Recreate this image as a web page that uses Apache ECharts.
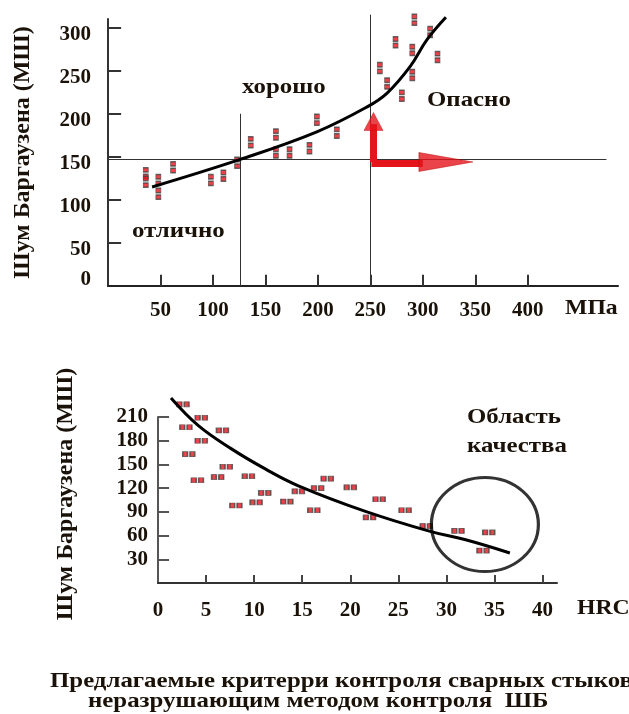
<!DOCTYPE html>
<html>
<head>
<meta charset="utf-8">
<script src="https://cdn.jsdelivr.net/npm/echarts@6/dist/echarts.min.js"></script>
<style>
  html, body { margin: 0; padding: 0; background: #fff; }
  #main { width: 629px; height: 714px; }
</style>
</head>
<body>
<div id="main"></div>
<script>
// верхний график: напряжение (МПа) -> шум Баргаузена
var topStress = [36, 36, 48, 48, 62, 98, 110, 123, 136, 160, 160, 173, 192, 199, 218, 259, 266, 274, 280, 290, 290, 292, 307, 314];
var topNoise = [131, 121, 123, 107, 138, 123, 128, 143, 167, 176, 155, 155, 160, 193, 178, 253, 235, 283, 221, 274, 245, 309, 295, 266];
var topFitX = [42, 126, 199, 247, 266, 288, 304, 322];
var topFitY = [115, 147, 179, 208, 224, 255, 286, 312];
var topXTicks = [50, 100, 150, 200, 250, 300, 350, 400];
var topYTicks = [50, 100, 150, 200, 250, 300];

// нижний график: твердость HRC -> шум Баргаузена
var hrc = [2.6, 4.5, 2.9, 6.7, 4.5, 3.2, 7.1, 4.1, 6.2, 9.4, 11.1, 8.1, 10.2, 13.4, 14.6, 17.6, 16.6, 16.2, 20.0, 22.0, 23.0, 25.7, 27.9, 31.2, 34.4, 33.8];
var hrcNoise = [226, 209, 197, 193, 180, 163, 147, 130, 134, 135, 114, 98, 102, 103, 116, 132, 120, 92, 121, 83, 106, 92, 72, 66, 64, 41];
var botFitX = [1.35, 4.2, 7.6, 11.2, 14.6, 21.5, 28.4, 31.9, 36.6];
var botFitY = [234, 199, 170, 144, 123, 91, 65, 55, 38];
var botXTicks = [5, 10, 15, 20, 25, 30, 35, 40];
var botYTicks = [30, 60, 90, 120, 150, 180, 210];

function pairs(xs, ys) {
  return xs.map(function (x, i) { return [x, ys[i]]; });
}

var font = "'Liberation Serif', 'DejaVu Serif', serif";
var ink = '#1a1208';
var red = '#e5141b';

var myChart = echarts.init(document.getElementById('main'));

var labelStyle = { color: ink, fontFamily: font, fontWeight: 'bold', fontSize: 21 };
var nameStyle = { color: ink, fontFamily: font, fontWeight: 'bold', fontSize: 24 };

function txt(x, y, s, size) {
  return {
    type: 'text', left: x, top: y, scaleX: 1.13,
    style: { text: s, font: 'bold ' + size + 'px ' + font, fill: ink }
  };
}

// засечки внутрь осей (длина в единицах оси)
function ticks(idx, vals, vertical, len, color) {
  return {
    type: 'lines', coordinateSystem: 'cartesian2d', xAxisIndex: idx, yAxisIndex: idx,
    clip: false, silent: true,
    lineStyle: { color: color, width: 2, opacity: 1 },
    data: vals.map(function (v) {
      return { coords: vertical ? [[v, 0], [v, len]] : [[0, v], [len, v]] };
    })
  };
}

myChart.setOption({
  animation: false,
  grid: [
    { left: 108, top: 19, width: 510, height: 267 },
    { left: 158, top: 417, width: 399, height: 166 }
  ],
  xAxis: [
    {
      gridIndex: 0, type: 'value', min: 0, max: 486, interval: 50,
      splitLine: { show: false },
      axisLine: { lineStyle: { color: '#222', width: 2 } },
      axisTick: { show: false },
      axisLabel: Object.assign({
        margin: 14,
        formatter: function (v) { return topXTicks.indexOf(v) >= 0 ? String(v) : ''; }
      }, labelStyle)
    },
    {
      gridIndex: 1, type: 'value', min: 0, max: 41.5, interval: 5,
      splitLine: { show: false },
      axisLine: { lineStyle: { color: '#333', width: 2 } },
      axisTick: { show: false },
      axisLabel: Object.assign({ margin: 17, showMaxLabel: false }, labelStyle)
    }
  ],
  yAxis: [
    {
      gridIndex: 0, type: 'value', min: 0, max: 310, interval: 50,
      name: 'Шум Баргаузена (МШ)', nameLocation: 'middle', nameGap: 73,
      nameTextStyle: nameStyle,
      splitLine: { show: false },
      axisLine: { show: true, lineStyle: { color: '#333', width: 2 } },
      axisTick: { show: false },
      axisLabel: Object.assign({
        margin: 17,
        formatter: function (v) {
          if (v === 0) return '{z|0}';
          return topYTicks.indexOf(v) >= 0 ? '{d|' + v + '}' : '';
        },
        rich: {
          d: { padding: [14, 0, 0, 0], fontFamily: font, fontWeight: 'bold', fontSize: 21, color: ink },
          z: { padding: [0, 0, 12, 0], fontFamily: font, fontWeight: 'bold', fontSize: 21, color: ink }
        }
      }, labelStyle)
    },
    {
      gridIndex: 1, type: 'value', min: 0, max: 210, interval: 30,
      name: 'Шум Баргаузена (МШ)', nameLocation: 'middle', nameGap: 80,
      nameTextStyle: Object.assign({ padding: [0, 0, 0, 12] }, nameStyle),
      splitLine: { show: false },
      axisLine: { show: true, lineStyle: { color: '#555', width: 2 } },
      axisTick: { show: false },
      axisLabel: Object.assign({ margin: 10, showMinLabel: false }, labelStyle)
    }
  ],
  series: [
    {
      // границы зон
      type: 'lines', coordinateSystem: 'cartesian2d', xAxisIndex: 0, yAxisIndex: 0,
      clip: false, silent: true,
      lineStyle: { color: '#333', width: 1, opacity: 1 },
      data: [
        { coords: [[126, 0], [126, 200]] },
        { coords: [[250, 0], [250, 315]] },
        { coords: [[0, 147], [475, 147]] }
      ]
    },
    ticks(0, topXTicks, true, 13, '#333'),
    ticks(0, topYTicks, false, 12.5, '#333'),
    ticks(1, botXTicks, true, 10, '#444'),
    ticks(1, botYTicks, false, 1.15, '#555'),
    {
      type: 'scatter', xAxisIndex: 0, yAxisIndex: 0,
      symbol: 'path://M0 0H4V4H0Z M0 6H4V10H0Z', symbolSize: [5, 11],
      itemStyle: { color: red, borderColor: '#444', borderWidth: 1 },
      clip: false,
      data: pairs(topStress, topNoise)
    },
    {
      type: 'line', xAxisIndex: 0, yAxisIndex: 0,
      smooth: 0.4, symbol: 'none', clip: false,
      lineStyle: { color: '#000', width: 3 },
      data: pairs(topFitX, topFitY)
    },
    {
      // красные стрелки: стержни
      type: 'lines', coordinateSystem: 'cartesian2d', xAxisIndex: 0, yAxisIndex: 0,
      clip: false, silent: true,
      lineStyle: { color: red, width: 7, opacity: 1 },
      data: [
        { coords: [[253, 144], [253, 188]] },
        { coords: [[251, 143], [300, 143]] }
      ]
    },
    {
      // красные стрелки: наконечники
      type: 'scatter', xAxisIndex: 0, yAxisIndex: 0,
      symbol: 'triangle', clip: false, silent: true,
      itemStyle: { color: red, borderColor: '#b00', borderWidth: 0.5 },
      data: [
        { value: [253, 191], symbolSize: [19, 18] },
        { value: [322, 144], symbolSize: [19, 54], symbolRotate: -90 }
      ]
    },
    {
      type: 'scatter', xAxisIndex: 1, yAxisIndex: 1,
      symbol: 'path://M0 0H4V4H0Z M6 0H10V4H6Z', symbolSize: [12, 5],
      itemStyle: { color: red, borderColor: '#444', borderWidth: 1 },
      clip: false,
      data: pairs(hrc, hrcNoise)
    },
    {
      type: 'line', xAxisIndex: 1, yAxisIndex: 1,
      smooth: 0.4, symbol: 'none', clip: false,
      lineStyle: { color: '#000', width: 3 },
      data: pairs(botFitX, botFitY)
    },
    {
      // область качества
      type: 'scatter', xAxisIndex: 1, yAxisIndex: 1,
      symbol: 'circle', symbolSize: [107, 94], clip: false, silent: true,
      itemStyle: { color: 'rgba(0,0,0,0)', borderColor: '#000', borderWidth: 3 },
      data: [[34.0, 74]]
    }
  ],
  graphic: [
    txt(132, 220, 'отлично', 22),
    txt(242, 76, 'хорошо', 22),
    txt(427, 89, 'Опасно', 22),
    txt(565, 298, 'МПа', 21),
    txt(467, 406, 'Область', 22),
    txt(467, 435, 'качества', 22),
    txt(577, 598, 'HRC', 21),
    txt(50, 670, 'Предлагаемые критерри контроля сварных стыков', 22),
    txt(88, 690, 'неразрушающим методом контроля  ШБ', 22)
  ]
});
</script>
</body>
</html>
